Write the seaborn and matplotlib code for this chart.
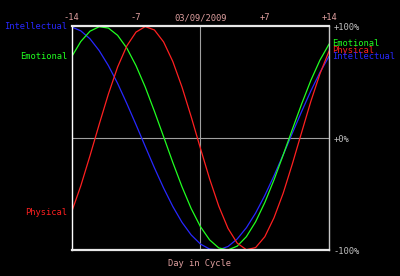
import matplotlib
matplotlib.use("Agg")
import matplotlib.pyplot as plt
import seaborn as sns
import pandas as pd

days = list(range(-14, 15))
physical = [-66.0, -42.5, -15.6, 12.5, 39.6, 63.7, 82.6, 95.0, 99.9, 96.9, 86.2, 68.7, 45.8, 19.2,
            -8.9, -36.3, -60.8, -80.6, -93.8, -99.7, -97.8, -88.1, -71.1, -49.1, -22.8, 5.2,
            32.9, 57.8, 78.3]
emotional = [72.8, 86.6, 95.8, 99.8, 98.6, 92.1, 80.7, 65.0, 45.9, 24.2, 1.4, -21.6, -43.4, -62.9,
             -79.0, -90.9, -98.1, -99.9, -96.5, -88.0, -74.7, -57.5, -37.2, -14.9, 8.1, 30.6,
             51.7, 70.0, 84.5]
intellectual = [99.6, 96.1, 89.0, 78.4, 65.0, 49.1, 31.1, 12.2, -7.2, -26.4, -44.5, -61.0, -75.2,
                -86.5, -94.6, -99.1, -99.8, -96.8, -90.1, -80.0, -66.9, -51.2, -33.5, -14.7, 4.7,
                23.9, 42.3, 59.0, 73.5]
series_names = ["Physical", "Emotional", "Intellectual"]
tick_days = [-14, -7, 0, 7, 14]
tick_labels = ["-14", "-7", "03/09/2009", "+7", "+14"]
pct_ticks = [100, 0, -100]
pct_labels = ["+100%", "+0%", "-100%"]

colors = {"Physical": "#ff2020", "Emotional": "#20ff20", "Intellectual": "#2828ff"}

df = pd.DataFrame({
    "day": days * 3,
    "value": physical + emotional + intellectual,
    "series": sum([[n] * len(days) for n in series_names], []),
})

sns.set_theme(style="dark")
plt.rcParams["font.family"] = ["DejaVu Sans Mono"]

fig = plt.figure(figsize=(4.0, 2.76), dpi=100, facecolor="#000000")
ax = fig.add_axes([0.179, 0.094, 0.644, 0.81])
ax.set_facecolor("#000000")

ax.axhline(0, color="#a0a0a0", lw=0.8, zorder=1)
ax.axvline(0, color="#a0a0a0", lw=0.8, zorder=1)

sns.lineplot(data=df, x="day", y="value", hue="series", palette=colors,
             hue_order=["Intellectual", "Emotional", "Physical"],
             lw=0.9, legend=False, ax=ax, zorder=3)

ax.set_xlim(-14, 14)
ax.set_ylim(-100, 100)

for side in ["top", "bottom"]:
    ax.spines[side].set_color("#e8e8e8")
    ax.spines[side].set_linewidth(1.6)
ax.spines["left"].set_color("#ffffff")
ax.spines["left"].set_linewidth(1.0)
ax.spines["right"].set_color("#c8c8c8")
ax.spines["right"].set_linewidth(1.0)
for s in ax.spines.values():
    s.set_visible(True)
    s.set_zorder(5)

ax.xaxis.tick_top()
ax.set_xticks(tick_days)
ax.set_xticklabels(tick_labels, color="#e0a0a0", fontsize=6.3)
ax.tick_params(axis="x", length=0, pad=3)
ax.yaxis.tick_right()
ax.set_yticks(pct_ticks)
ax.set_yticklabels(pct_labels, color="#c0c0c0", fontsize=6.3)
ax.tick_params(axis="y", length=0, pad=3)
ax.grid(False)
ax.set_xlabel("")
ax.set_ylabel("")

fig.text(0.5, 0.045, "Day in Cycle", color="#e0a0a0", fontsize=6.3, ha="center", va="center")

left_vals = {"Physical": physical[0], "Emotional": emotional[0], "Intellectual": intellectual[0]}
right_vals = {"Physical": physical[-1], "Emotional": emotional[-1], "Intellectual": intellectual[-1]}
for n in series_names:
    ax.annotate(n, xy=(-14, left_vals[n]), xytext=(-3, 0), textcoords="offset points",
                ha="right", va="center", color=colors[n], fontsize=6.3, annotation_clip=False)
    ax.annotate(n, xy=(14, right_vals[n]), xytext=(2, 0), textcoords="offset points",
                ha="left", va="center", color=colors[n], fontsize=6.3, annotation_clip=False)

fig.savefig("out.png", dpi=100, facecolor="#000000")
